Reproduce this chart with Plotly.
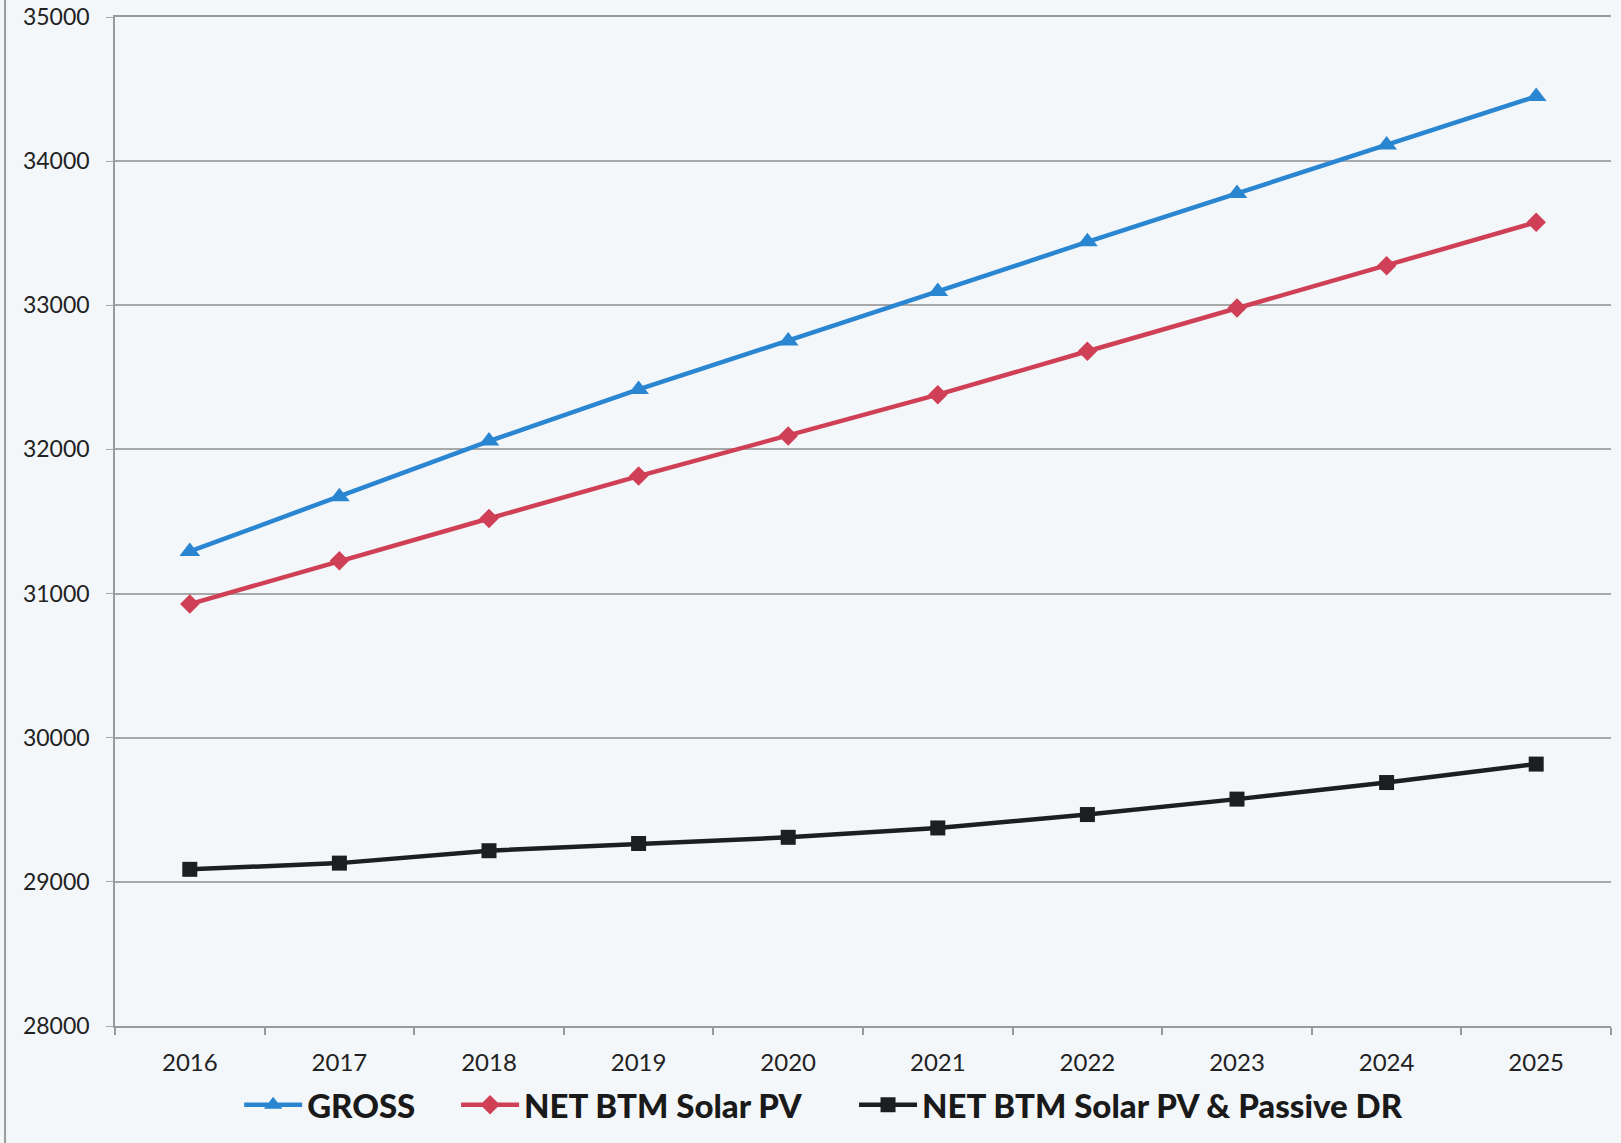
import plotly.graph_objects as go

years = ["2016", "2017", "2018", "2019", "2020", "2021", "2022", "2023", "2024", "2025"]
gross = [31292, 31671, 32058, 32416, 32752, 33096, 33440, 33776, 34112, 34449]
net_pv = [30927, 31228, 31521, 31815, 32094, 32380, 32681, 32981, 33275, 33576]
net_pv_dr = [29087, 29130, 29216, 29266, 29309, 29374, 29467, 29574, 29689, 29817]

series = [
    ("GROSS", gross, "#2a86d1", "triangle-up", 18, "legend", 0.083),
    ("NET BTM Solar PV", net_pv, "#cf3f55", "diamond", 15, "legend2", 0.228),
    ("NET BTM Solar PV & Passive DR", net_pv_dr, "#1c1f1f", "square", 15, "legend3", 0.494),
]

fig = go.Figure()
for name, vals, color, sym, size, leg, _ in series:
    fig.add_trace(go.Scatter(
        x=years, y=vals, name=name, mode="lines+markers", legend=leg,
        line=dict(color=color, width=4.5),
        marker=dict(symbol=sym, size=size, color=color),
    ))

bg = "#f4f7fa"
legfont = dict(size=33, color="#1a1a1a", family="Lato, sans-serif", weight=900)
legends = {}
for name, vals, color, sym, size, leg, lx in series:
    legends[leg] = dict(
        orientation="h", x=lx, xanchor="left", y=-0.078, yanchor="middle",
        font=legfont, bgcolor="rgba(0,0,0,0)", itemwidth=58,
    )

fig.update_layout(
    width=1621, height=1143,
    margin=dict(l=115, r=10, t=17, b=115),
    paper_bgcolor=bg, plot_bgcolor=bg,
    font=dict(family="Lato, Open Sans, sans-serif", color="#222222"),
    showlegend=True,
    xaxis=dict(
        type="category", tickson="boundaries", showgrid=False,
        ticks="outside", ticklen=7, tickcolor="#9a9a9a", tickwidth=1.5,
        showline=True, linecolor="#9a9a9a", linewidth=1.5, mirror=True,
        tickfont=dict(size=24), range=[-0.5, 9.5], automargin=False,
        ticklabelstandoff=14,
    ),
    yaxis=dict(
        range=[28000, 35000], dtick=1000, tickformat="d",
        showgrid=True, gridcolor="#a8a8a8", gridwidth=1.5,
        ticks="outside", ticklen=7, tickcolor="#a8a8a8",
        showline=True, linecolor="#9a9a9a", linewidth=1.5,
        tickfont=dict(size=23), zeroline=False, automargin=False,
        ticklabelstandoff=12,
    ),
    **legends,
)

fig.add_shape(type="line", xref="paper", yref="paper",
              x0=-0.0735, x1=-0.0735, y0=-0.12, y1=1.02,
              line=dict(color="#9a9a9a", width=2))

fig.write_html("out.html", config={"displayModeBar": False},
               post_script="document.body.style.margin='0';document.body.style.background='#f4f7fa';")
